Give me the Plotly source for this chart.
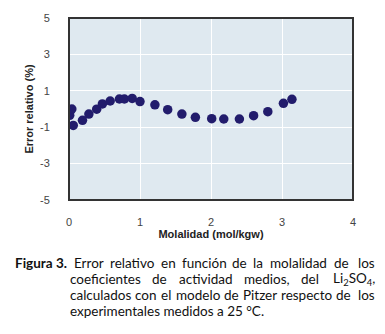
import plotly.graph_objects as go

molalidad = [0.02, 0.01, 0.04, 0.06, 0.19, 0.28, 0.39, 0.47, 0.58, 0.71, 0.78, 0.89,
             1.00, 1.21, 1.39, 1.59, 1.78, 2.01, 2.18, 2.40, 2.60, 2.80, 3.02, 3.14]
error_rel = [-0.1, -0.35, 0.0, -0.9, -0.62, -0.28, -0.01, 0.28, 0.44, 0.55, 0.55, 0.58,
             0.41, 0.23, -0.04, -0.28, -0.46, -0.53, -0.55, -0.55, -0.37, -0.15, 0.31, 0.53]
x_ticks = [0, 1, 2, 3, 4]
y_ticks = [-5, -3, -1, 1, 3, 5]
y_ticktext = ["-5", "-3", "-1", "1", "3", "5"]

caption_lines = [
    ["<b>Figura 3.</b>", "Error", "relativo", "en", "función", "de", "la", "molalidad", "de", "los"],
    ["coeficientes", "de", "actividad", "medios,", "del", "Li<sub>2</sub>SO<sub>4</sub>,"],
    ["calculados", "con", "el", "modelo", "de", "Pitzer", "respecto", "de", "los"],
    ["experimentales medidos a 25 °C."],
]

W, H = 385, 334
L, R, T, B = 69, 32, 16, 134

fig = go.Figure()
fig.add_trace(go.Scatter(
    x=molalidad, y=error_rel, mode="markers",
    marker=dict(size=9.5, color="#221c6c", line=dict(width=0)),
    showlegend=False, hoverinfo="skip"))

fig.update_layout(
    width=W, height=H,
    margin=dict(l=L, r=R, t=T, b=B),
    paper_bgcolor="white", plot_bgcolor="#dfe9f0",
    font=dict(family="Liberation Sans, Arial", size=11, color="#333"),
    xaxis=dict(range=[0, 4], tickvals=x_ticks, showgrid=True, gridcolor="white", gridwidth=1,
               zeroline=False, ticks="outside", ticklen=12, tickcolor="rgba(0,0,0,0)",
               tickfont=dict(size=11, color="#444"),
               title=dict(text="<b>Molalidad (mol/kgw)</b>", font=dict(size=11, color="#222"), standoff=1),
               showline=False),
    yaxis=dict(range=[-5, 5], tickvals=y_ticks, ticktext=y_ticktext, showgrid=True,
               gridcolor="white", gridwidth=1,
               zeroline=False, ticks="outside", ticklen=16, tickcolor="rgba(0,0,0,0)",
               tickfont=dict(size=11, color="#444"),
               title=dict(text="<b>Error relativo (%)</b>", font=dict(size=11, color="#222"), standoff=4),
               showline=False),
)

fig.add_shape(type="rect", xref="paper", yref="paper", x0=0, x1=1, y0=0, y1=1,
              line=dict(color="#333", width=2), layer="above")

# --- justified caption: approximate glyph advance widths (em) for Lato ---
CW = dict(a=.51, b=.56, c=.46, d=.56, e=.52, f=.32, g=.50, h=.56, i=.24, j=.24, k=.50, l=.24,
          m=.84, n=.56, o=.56, p=.55, q=.56, r=.36, s=.42, t=.35, u=.56, v=.50, w=.76, x=.49,
          y=.50, z=.44)
CW.update({"ó": .56, " ": .19, ",": .22, ".": .22, "°": .40, "E": .56, "F": .55, "P": .58,
           "L": .46, "S": .50, "O": .73, "C": .67})


def word_em(word):
    import re
    bold = "<b>" in word
    w = 0.0
    for part in re.split(r"(<sub>.*?</sub>)", word):
        if part.startswith("<sub>"):
            w += 0.58 * 0.7 * len(re.sub(r"<.*?>", "", part))
            continue
        for ch in re.sub(r"<.*?>", "", part):
            w += CW.get(ch, .58)
    return w * (1.05 if bold else 1.0)


FS = 13.5
SCALE = 1.0
PAD = 3
cap_font = "Lato, Carlito, Calibri, sans-serif"
line_starts = [17, 72, 72, 72]
RIGHT_EDGE = 373
line_y = [264, 280, 296, 312]
justify = [True, True, True, False]

pw = W - L - R
ph = H - T - B
for words, x0, ypix, just in zip(caption_lines, line_starts, line_y, justify):
    widths = [word_em(w) * FS * SCALE for w in words]
    if just and len(words) > 1:
        gap = (RIGHT_EDGE - x0 - sum(widths)) / (len(words) - 1)
    else:
        gap = 0
    xp = x0
    for i, (w, wd) in enumerate(zip(words, widths)):
        last = just and i == len(words) - 1
        fig.add_annotation(
            x=((RIGHT_EDGE if last else xp) - L) / pw, y=1 - (ypix - T) / ph,
            xref="paper", yref="paper", borderpad=0,
            xshift=PAD if last else -PAD,
            xanchor="right" if last else "left", yanchor="middle", text=w, showarrow=False,
            font=dict(family=cap_font, size=FS, color="#111"))
        xp += wd + gap

fig.write_html("out.html")
